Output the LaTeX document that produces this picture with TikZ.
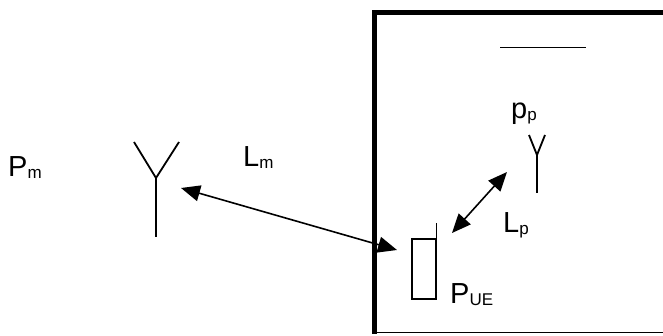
\documentclass[tikz,border=0pt]{standalone}
\usepackage{fontspec}
\setmainfont{Liberation Sans}
\usetikzlibrary{positioning,arrows.meta}

\newcommand{\lowsub}[1]{\raisebox{-2pt}{\fontsize{17}{17}\selectfont #1}}

\begin{document}
\begin{tikzpicture}[
    x=1pt, y=-1pt,
    lbl/.style={font=\fontsize{29}{31}\selectfont, inner sep=0pt, anchor=base west},
    aerial/.style={line width=1.8pt},
    link/.style={line width=1.6pt, {Triangle[length=19pt,width=16pt]}-{Triangle[length=19pt,width=16pt]}}
]
\useasboundingbox (0,0) rectangle (663,336);

% Building
\draw[line width=5pt] (665,13) -- (374,13) -- (374,334);
\draw[line width=1.5pt] (374,332.5) -- (665,332.5);
\draw[line width=1.6pt] (500,47.5) -- (586,47.5);

% Macro antenna
\coordinate (mtip) at (156,178);
\draw[aerial] (134,142) -- (mtip) -- (179,142);
\draw[aerial] (mtip) -- (156,237);
\coordinate (mend) at (181,188);

% Pico antenna
\coordinate (ptip) at (537,155);
\draw[aerial] (529,135) -- (ptip) -- (545,135);
\draw[aerial] (ptip) -- (537,193);
\coordinate (pend) at (507,172);

% UE
\node[draw, line width=1.2pt, minimum width=24pt, minimum height=60pt, inner sep=0pt] (phone) at (424,269) {};
\draw[line width=1.2pt] (phone.north east) ++(0,-15) -- ++(0,29);
\coordinate (uein) at (397,250);
\coordinate (ueout) at (452,233);

% Labels
\node[lbl] (pm) at (8,177) {P\lowsub{m}};
\node[lbl] (lm) at (243,167) {L\lowsub{m}};
\node[lbl] (pp) at (511,119) {p\lowsub{p}};
\node[lbl] (lp) at (503,233) {L\lowsub{p}};
\node[lbl] (pue) at (450,303) {P\lowsub{UE}};

% Links
\draw[link] (mend) -- (uein);
\draw[link] (ueout) -- (pend);

\end{tikzpicture}
\end{document}
